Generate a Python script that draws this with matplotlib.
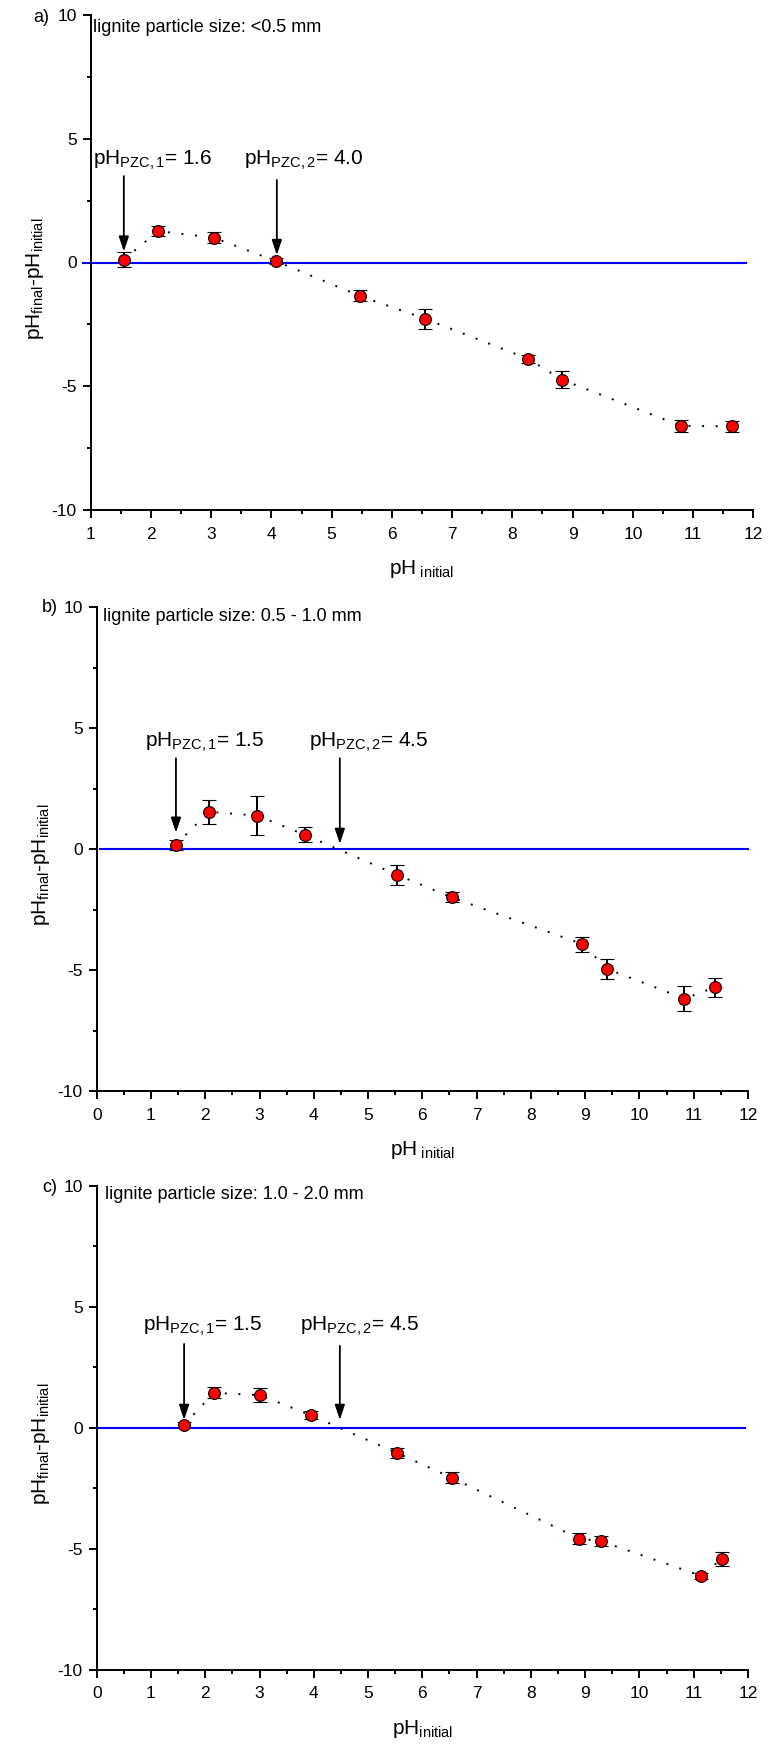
import matplotlib
matplotlib.use('Agg')
import matplotlib.pyplot as plt
from matplotlib.ticker import MultipleLocator

plt.rcParams['font.family'] = ['Liberation Sans', 'DejaVu Sans']
plt.rcParams['mathtext.fontset'] = 'custom'
plt.rcParams['mathtext.rm'] = 'Liberation Sans'
plt.rcParams['mathtext.it'] = 'Liberation Sans:italic'
plt.rcParams['mathtext.bf'] = 'Liberation Sans:bold'
plt.rcParams['axes.unicode_minus'] = False

# ---------------- data ----------------
ph_a = [1.55, 2.12, 3.05, 4.07, 5.47, 6.55, 8.26, 8.82, 10.80, 11.65]
dph_a = [0.12, 1.27, 1.00, 0.06, -1.35, -2.27, -3.89, -4.73, -6.60, -6.62]
err_a = [0.30, 0.21, 0.22, 0.13, 0.22, 0.40, 0.16, 0.33, 0.24, 0.23]

ph_b = [1.46, 2.06, 2.96, 3.84, 5.54, 6.54, 8.95, 9.41, 10.83, 11.39]
dph_b = [0.17, 1.54, 1.38, 0.58, -1.07, -2.00, -3.93, -4.96, -6.18, -5.72]
err_b = [0.21, 0.50, 0.81, 0.31, 0.41, 0.21, 0.31, 0.40, 0.50, 0.41]

ph_c = [1.61, 2.16, 3.00, 3.94, 5.54, 6.54, 8.89, 9.29, 11.14, 11.52]
dph_c = [0.13, 1.44, 1.35, 0.52, -1.05, -2.07, -4.58, -4.69, -6.12, -5.41]
err_c = [0.12, 0.23, 0.30, 0.18, 0.21, 0.23, 0.22, 0.21, 0.13, 0.29]

size_labels = ['lignite particle size: <0.5 mm',
               'lignite particle size: 0.5 - 1.0 mm',
               'lignite particle size: 1.0 - 2.0 mm']
panel_labels = ['a)', 'b)', 'c)']
pzc1_vals = ['1.6', '1.5', '1.5']
pzc2_vals = ['4.0', '4.5', '4.5']
pzc1_x = [1.55, 1.46, 1.61]
pzc2_x = [4.09, 4.48, 4.48]
xlabels = [r'pH$_{\mathregular{\ initial}}$', r'pH$_{\mathregular{\ initial}}$',
           r'pH$_{\mathregular{initial}}$']

# ---------------- layout ----------------
W, H = 769, 1748
fig = plt.figure(figsize=(W / 100, H / 100), dpi=100)


def rect(l, r, t, b):
    return [l / W, 1 - b / H, (r - l) / W, (b - t) / H]


rects = [rect(90.7, 753.3, 15, 510), rect(96.7, 748, 607, 1091),
         rect(96.7, 748, 1185.7, 1669.7)]
xlims = [(1, 12), (0, 12), (0, 12)]
zero_spans = [(0.88, 11.88), (0.06, 12.0), (0.0, 11.95)]
text_pos = [  # (label x, label y, pzc1 text x, pzc2 text x, text baseline y,
    #  arrow1 start, arrow1 tip, arrow2 start, arrow2 tip)
    (1.04, 9.50, 1.04, 3.55, 3.94, 3.49, 0.44, 3.33, 0.30),
    (0.11, 9.62, 0.89, 3.92, 4.23, 3.75, 0.67, 3.75, 0.21),
    (0.15, 9.62, 0.85, 3.75, 4.01, 3.46, 0.32, 3.38, 0.32),
]
panel_label_px = [(33, 17), (42, 608), (42, 1187)]

datasets = [(ph_a, dph_a, err_a), (ph_b, dph_b, err_b), (ph_c, dph_c, err_c)]

for i, (xs, ys, es) in enumerate(datasets):
    ax = fig.add_axes(rects[i])
    ax.set_xlim(*xlims[i])
    ax.set_ylim(-10, 10)
    for s in ['top', 'right']:
        ax.spines[s].set_visible(False)
    for s in ['left', 'bottom']:
        ax.spines[s].set_linewidth(1.4)
    ax.xaxis.set_major_locator(MultipleLocator(1))
    ax.xaxis.set_minor_locator(MultipleLocator(0.5))
    ax.yaxis.set_major_locator(MultipleLocator(5))
    ax.yaxis.set_minor_locator(MultipleLocator(2.5))
    ax.tick_params(which='major', direction='out', length=6, width=1.4,
                   labelsize=12.5, pad=4)
    ax.tick_params(which='minor', direction='out', length=3.2, width=1.4)
    ax.tick_params(axis='x', which='major', pad=6)

    # zero line
    ax.plot(list(zero_spans[i]), [0, 0], color='#0000ff', lw=1.5,
            clip_on=False, zorder=2)
    # dotted connecting line
    ax.plot(xs, ys, linestyle=(0, (1, 6)), color='black', lw=1.4, zorder=3)
    # points with error bars
    ax.errorbar(xs, ys, yerr=es, fmt='o', ms=8.5, mfc='#ff0000', mec='black',
                mew=0.8, ecolor='black', elinewidth=1.4, capsize=5,
                capthick=1.5, zorder=4)

    lx, ly, t1x, t2x, tby, a1s, a1t, a2s, a2t = text_pos[i]
    ax.text(lx, ly, size_labels[i], fontsize=13, ha='left', va='center')
    ax.text(t1x, tby, r'pH$_{\mathregular{PZC,1}}$= ' + pzc1_vals[i],
            fontsize=15, ha='left', va='baseline')
    ax.text(t2x, tby, r'pH$_{\mathregular{PZC,2}}$= ' + pzc2_vals[i],
            fontsize=15, ha='left', va='baseline')
    arrow_kw = dict(arrowstyle='-|>,head_length=0.9,head_width=0.3',
                    color='black', lw=1.3, shrinkA=0, shrinkB=0)
    ax.annotate('', xy=(pzc1_x[i], a1t), xytext=(pzc1_x[i], a1s),
                arrowprops=arrow_kw, zorder=5)
    ax.annotate('', xy=(pzc2_x[i], a2t), xytext=(pzc2_x[i], a2s),
                arrowprops=arrow_kw, zorder=5)

    ax.set_xlabel(xlabels[i], fontsize=15, labelpad=12)
    ax.set_ylabel(r'pH$_{\mathregular{final}}$-pH$_{\mathregular{initial}}$',
                  fontsize=15)
    ax.yaxis.set_label_coords(-0.068, 0.467)

    px, py = panel_label_px[i]
    fig.text(px / W, 1 - py / H, panel_labels[i], fontsize=13,
             ha='left', va='center')

fig.savefig('out.png', dpi=100)
